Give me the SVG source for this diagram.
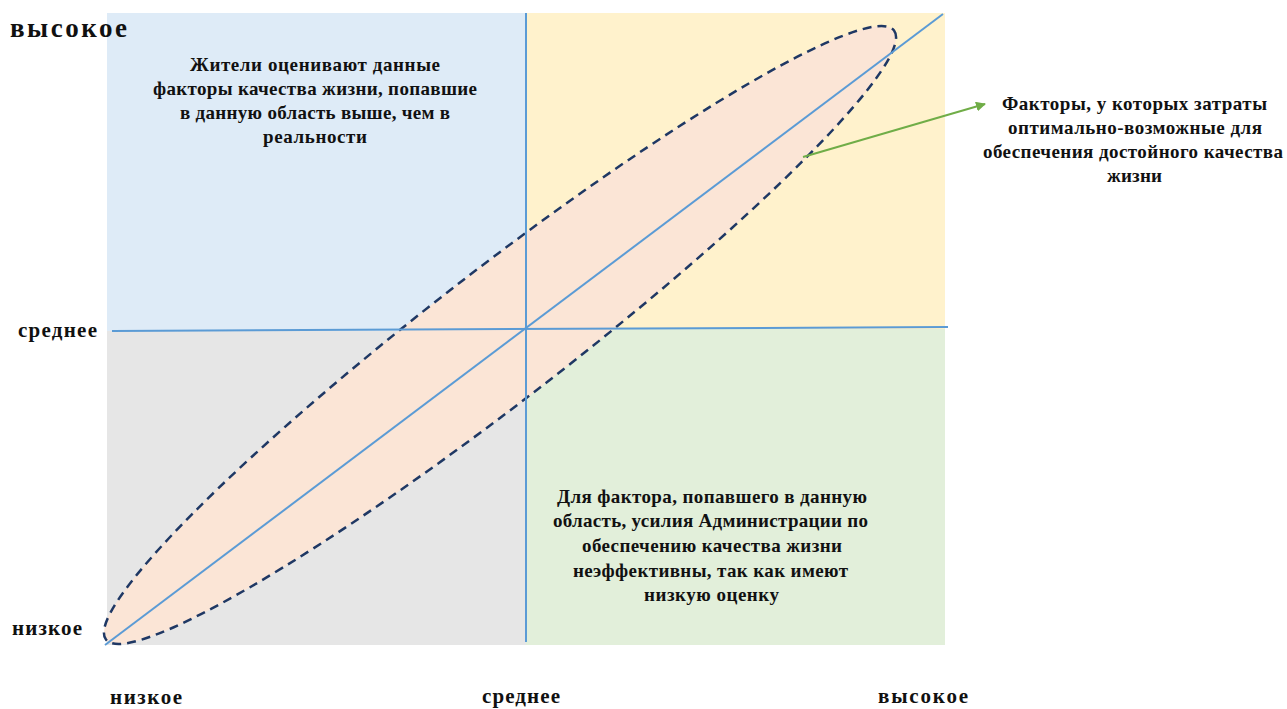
<svg xmlns="http://www.w3.org/2000/svg" width="1287" height="709" viewBox="0 0 1287 709">
<style>
.t{font-family:"Liberation Serif","Times New Roman","DejaVu Serif",serif;font-weight:bold;font-size:19px;fill:#111}
.l{font-size:21px}
.ax{stroke:#5b9bd5;stroke-width:2;fill:none}
</style>
<defs>
<marker id="ah" viewBox="0 0 10 10" refX="9" refY="5" markerWidth="5" markerHeight="5" orient="auto" markerUnits="strokeWidth">
<path d="M0,0 L10,5 L0,10 z" fill="#70ad47"/>
</marker>
</defs>
<rect width="1287" height="709" fill="#fff"/>
<g id="quadrants">
<rect x="107" y="13" width="419" height="318" fill="#deebf7"/>
<rect x="526" y="13" width="419" height="316" fill="#fff2cc"/>
<rect x="107" y="331" width="419" height="314" fill="#e6e6e6"/>
<rect x="526" y="329" width="419" height="316" fill="#e2efda"/>
</g>
<g id="ellipse">
<ellipse cx="500" cy="335" rx="498" ry="66" transform="rotate(-37.7 500 335)" fill="#fbe5d6" stroke="#1f3864" stroke-width="2.5" stroke-dasharray="9,6"/>
</g>
<g id="connectors">
<line class="ax" x1="526" y1="13" x2="526" y2="642"/>
<line class="ax" x1="112" y1="331" x2="948" y2="327"/>
<line class="ax" x1="105" y1="645" x2="943" y2="14"/>
<line x1="803" y1="157" x2="985" y2="104" stroke="#70ad47" stroke-width="2" marker-end="url(#ah)"/>
</g>
<g id="labels">
<text class="t l" x="10" y="37" style="font-size:27px" textLength="117" lengthAdjust="spacing">высокое</text>
<text class="t l" x="18" y="337" textLength="79" lengthAdjust="spacing">среднее</text>
<text class="t l" x="12" y="635" textLength="70" lengthAdjust="spacing">низкое</text>
<text class="t l" x="110" y="704" textLength="72" lengthAdjust="spacing">низкое</text>
<text class="t l" x="482" y="703" textLength="78" lengthAdjust="spacing">среднее</text>
<text class="t l" x="878" y="703" textLength="90" lengthAdjust="spacing">высокое</text>
</g>
<g id="note-blue">
<text class="t" x="190" y="71" textLength="250" lengthAdjust="spacing">Жители оценивают данные</text>
<text class="t" x="153" y="95" textLength="324" lengthAdjust="spacing">факторы качества жизни, попавшие</text>
<text class="t" x="180" y="119" textLength="270" lengthAdjust="spacing">в данную область выше, чем в</text>
<text class="t" x="263" y="143" textLength="104" lengthAdjust="spacing">реальности</text>
</g>
<g id="note-right">
<text class="t" x="1002" y="110" textLength="265" lengthAdjust="spacing">Факторы, у которых затраты</text>
<text class="t" x="1008" y="134" textLength="254" lengthAdjust="spacing">оптимально-возможные для</text>
<text class="t" x="983" y="158" textLength="300" lengthAdjust="spacing">обеспечения достойного качества</text>
<text class="t" x="1107" y="182" textLength="55" lengthAdjust="spacing">жизни</text>
</g>
<g id="note-green">
<text class="t" x="557" y="503" textLength="310" lengthAdjust="spacing">Для фактора, попавшего в данную</text>
<text class="t" x="553" y="527" textLength="315" lengthAdjust="spacing">область, усилия Администрации по</text>
<text class="t" x="582" y="552" textLength="260" lengthAdjust="spacing">обеспечению качества жизни</text>
<text class="t" x="573" y="577" textLength="275" lengthAdjust="spacing">неэффективны, так как имеют</text>
<text class="t" x="644" y="601" textLength="135" lengthAdjust="spacing">низкую оценку</text>
</g>
</svg>
